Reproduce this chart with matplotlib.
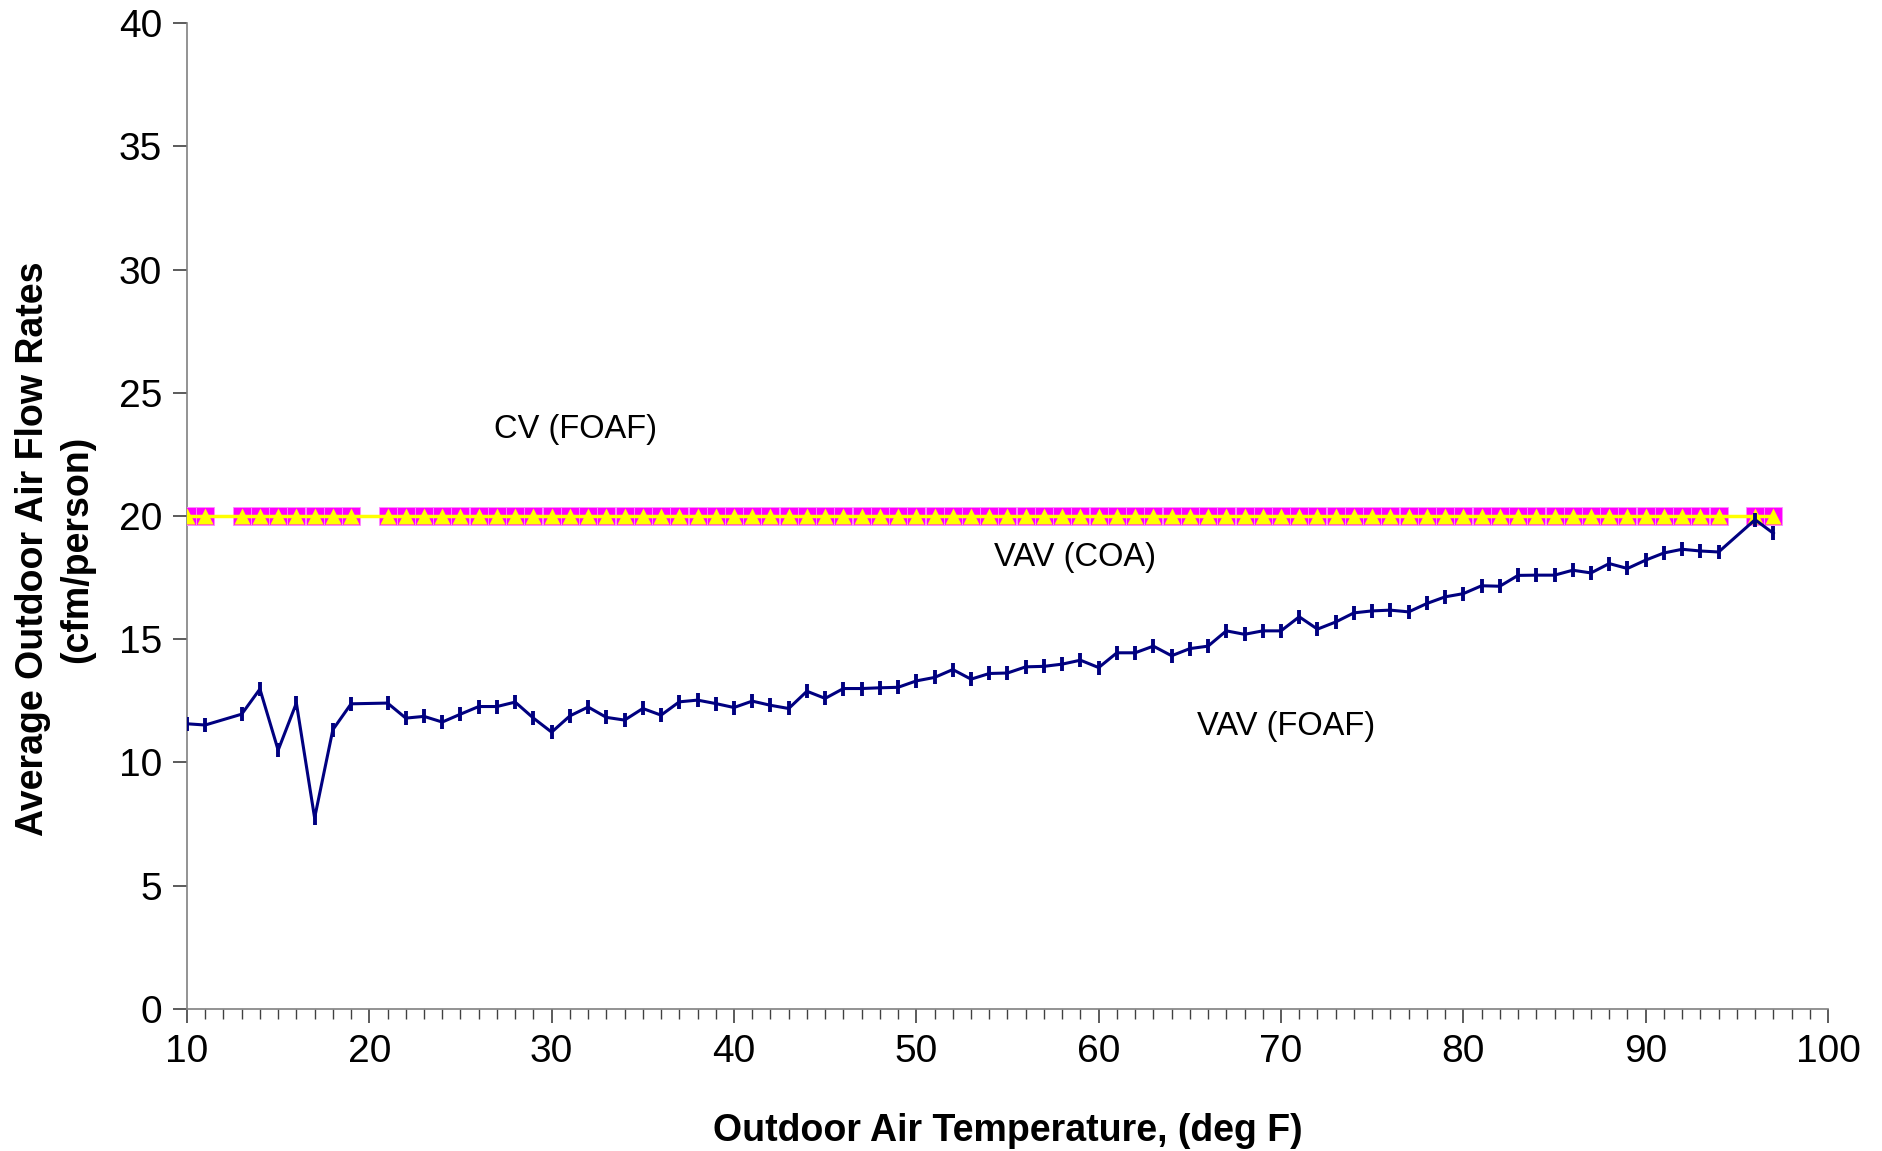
import matplotlib
matplotlib.use("Agg")
import matplotlib.pyplot as plt
from matplotlib.ticker import MultipleLocator

plt.rcParams['font.family'] = ['Liberation Sans', 'DejaVu Sans']

# Outdoor air temperature (deg F)
temps = [10, 11, 13, 14, 15, 16, 17, 18, 19,
         21, 22, 23, 24, 25, 26, 27, 28, 29, 30,
         31, 32, 33, 34, 35, 36, 37, 38, 39, 40,
         41, 42, 43, 44, 45, 46, 47, 48, 49, 50,
         51, 52, 53, 54, 55, 56, 57, 58, 59, 60,
         61, 62, 63, 64, 65, 66, 67, 68, 69, 70,
         71, 72, 73, 74, 75, 76, 77, 78, 79, 80,
         81, 82, 83, 84, 85, 86, 87, 88, 89, 90,
         91, 92, 93, 94, 96, 97]

vav_foaf = [11.57, 11.52, 11.96, 12.98, 10.5, 12.41, 7.75, 11.33, 12.38,
            12.41, 11.8, 11.87, 11.64, 11.96, 12.27, 12.27, 12.45, 11.8, 11.23,
            11.89, 12.25, 11.83, 11.72, 12.19, 11.92, 12.46, 12.53, 12.39, 12.23,
            12.49, 12.32, 12.19, 12.89, 12.6, 13.0, 13.0, 13.03, 13.05, 13.31,
            13.45, 13.77, 13.38, 13.61, 13.63, 13.88, 13.9, 13.99, 14.15, 13.85,
            14.45, 14.45, 14.72, 14.33, 14.62, 14.72, 15.34, 15.2, 15.34, 15.34,
            15.91, 15.41, 15.7, 16.07, 16.15, 16.18, 16.11, 16.45, 16.72, 16.85,
            17.17, 17.15, 17.59, 17.6, 17.6, 17.8, 17.69, 18.07, 17.87, 18.21,
            18.5, 18.65, 18.58, 18.54, 19.85, 19.3]

cv_foaf = [20.0] * len(temps)
vav_coa = [20.0] * len(temps)

x_ticks = [10, 20, 30, 40, 50, 60, 70, 80, 90, 100]
y_ticks = [0, 5, 10, 15, 20, 25, 30, 35, 40]

fig = plt.figure(figsize=(18.83, 11.51), dpi=100)
ax = fig.add_axes([0.0993, 0.1234, 0.8715, 0.8566])

ax.plot(temps, cv_foaf, color='#FF00FF', lw=2, marker='s', markersize=12.5,
        markerfacecolor='#FF00FF', markeredgecolor='#FF88FF', markeredgewidth=0.6, zorder=3)
ax.plot(temps, vav_coa, color='#FFFF00', lw=2.5, marker='^', markersize=12,
        markerfacecolor='#FFFF00', markeredgecolor='none', zorder=4)
ax.plot(temps, vav_foaf, color='#000080', lw=2.2, marker='|', markersize=10,
        markeredgewidth=2.8, zorder=5)

ax.set_xlim(10, 100)
ax.set_ylim(0, 40)
ax.set_xticks(x_ticks)
ax.set_yticks(y_ticks)
ax.xaxis.set_minor_locator(MultipleLocator(1))

for s in ['top', 'right']:
    ax.spines[s].set_visible(False)
for s in ['left', 'bottom']:
    ax.spines[s].set_color('#808080')
    ax.spines[s].set_linewidth(1.2)

ax.tick_params(axis='both', which='major', direction='out', length=10, width=1.2,
               color='#404040', labelsize=28, pad=8)
ax.tick_params(axis='x', which='minor', direction='out', length=7, width=1.0, color='#404040')

ax.set_xlabel('Outdoor Air Temperature, (deg F)', fontsize=27, fontweight='bold', labelpad=31)
fig.text(0.0292, 0.523, 'Average Outdoor Air Flow Rates\n(cfm/person)', fontsize=27,
         fontweight='bold', rotation=90, ha='center', va='center', linespacing=1.3,
         multialignment='center')

ax.text(31.3, 23.5, 'CV (FOAF)', fontsize=23.5, ha='center', va='center')
ax.text(58.7, 18.3, 'VAV (COA)', fontsize=23.5, ha='center', va='center')
ax.text(70.3, 11.45, 'VAV (FOAF)', fontsize=23.5, ha='center', va='center')

fig.savefig('out.png', dpi=100)
